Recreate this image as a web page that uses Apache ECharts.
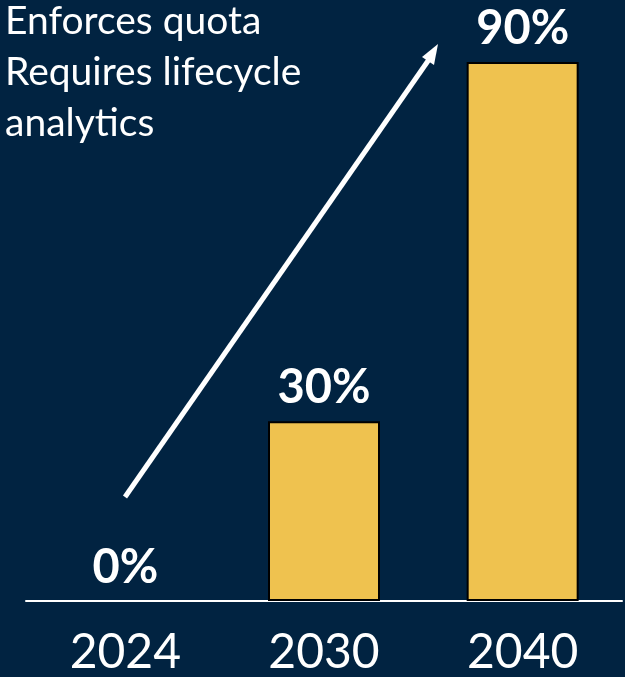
<!DOCTYPE html>
<html><head><meta charset="utf-8">
<script src="https://cdn.jsdelivr.net/npm/echarts@6/dist/echarts.min.js"></script>
<style>html,body{margin:0;padding:0;background:#012341;}#c{width:625px;height:677px;}</style>
</head><body><div id="c"></div>
<script>
const categories = ['2024', '2030', '2040'];
const values = [0, 30, 90];
const noteLines = ['Enforces quota', 'Requires lifecycle', 'analytics'];

const chart = echarts.init(document.getElementById('c'));
const font = 'Lato, "Open Sans", sans-serif';
chart.setOption({
  backgroundColor: '#012341',
  animation: false,
  grid: {left: 26, right: 3, top: 2, bottom: 73, containLabel: false},
  xAxis: {
    type: 'category', data: categories,
    axisLine: {lineStyle: {color: '#ffffff', width: 2}},
    axisTick: {show: false},
    axisLabel: {color: '#ffffff', fontSize: 48, fontFamily: font, margin: 28}
  },
  yAxis: {type: 'value', min: 0, max: 100, show: false, splitLine: {show: false}},
  series: [{
    type: 'bar', barWidth: 112,
    data: values.map(v => ({value: v, itemStyle: {borderWidth: v === 0 ? 0 : 2}})),
    itemStyle: {color: '#EFC24F', borderColor: '#000000', borderWidth: 2},
    label: {show: true, position: 'top', distance: 10, color: '#ffffff', fontSize: 47, fontWeight: 'bold', fontFamily: font,
      formatter: p => p.value + '%'}
  }],
  graphic: [
    {type: 'text', left: 5, top: -4, style: {text: noteLines.join('\n'), fill: '#ffffff', font: '39px ' + font, lineHeight: 51}},
    {type: 'line', shape: {x1: 125, y1: 497, x2: 430, y2: 58}, style: {stroke: '#ffffff', lineWidth: 5}},
    {type: 'polygon', shape: {points: [[438, 44], [422, 57], [434, 65]]}, style: {fill: '#ffffff'}}
  ]
});
</script></body></html>
